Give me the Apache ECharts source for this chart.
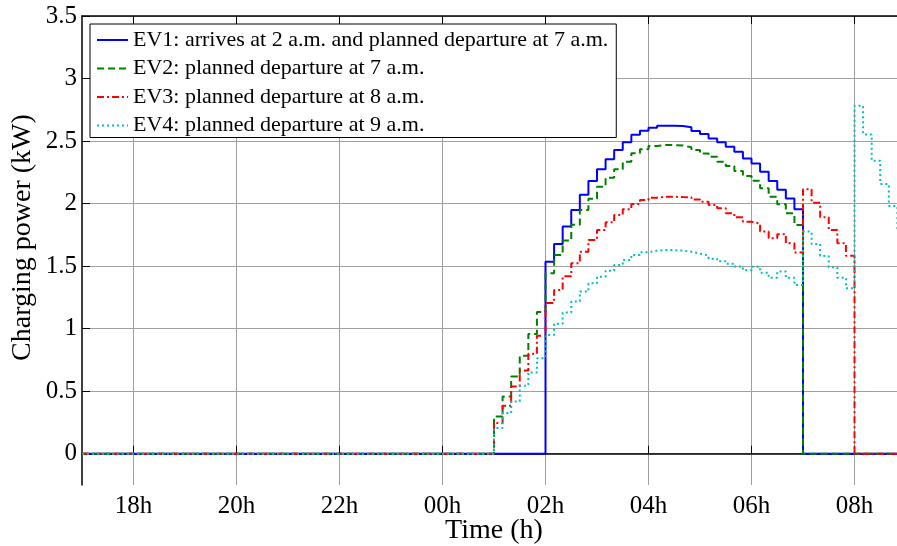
<!DOCTYPE html>
<html>
<head>
<meta charset="utf-8">
<script src="https://cdn.jsdelivr.net/npm/echarts@6/dist/echarts.min.js"></script>
<style>
html,body{margin:0;padding:0;background:#fff;}
#chart{width:897px;height:546px;}
</style>
</head>
<body>
<div id="chart"></div>
<script>
// ---- data ----
const seriesNames = [
  'EV1: arrives at 2 a.m. and planned departure at 7 a.m.',
  'EV2: planned departure at 7 a.m.',
  'EV3: planned departure at 8 a.m.',
  'EV4: planned departure at 9 a.m.'
];
// x axis in hours since midnight of day 1 (25 = 01:00 next day)
const xStartHour = 17;
const xEndHour = 33;
const profileStartHour = 25;     // 01:00, first 10-min slot of the profiles
const slotMinutes = 10;
const xTickHours = [18, 20, 22, 24, 26, 28, 30, 32];
const yTicks = [0, 0.5, 1, 1.5, 2, 2.5, 3, 3.5];

// charging power (kW) per 10-minute slot, from 01:00 to 08:50
const ev1 = [
  0, 0, 0, 0, 0, 0,
  1.536, 1.677, 1.816, 1.949, 2.071, 2.18,
  2.274, 2.354, 2.428, 2.49, 2.551, 2.583,
  2.606, 2.622, 2.622, 2.62, 2.61, 2.58,
  2.556, 2.52, 2.49, 2.455, 2.415, 2.36,
  2.32, 2.255, 2.18, 2.11, 2.04, 1.955,
  0, 0, 0, 0, 0, 0,
  0, 0, 0, 0, 0, 0
];
const ev2 = [
  0.298, 0.458, 0.617, 0.783, 0.958, 1.134,
  1.443, 1.59, 1.704, 1.83, 1.949, 2.039,
  2.135, 2.207, 2.274, 2.335, 2.402, 2.434,
  2.46, 2.468, 2.468, 2.465, 2.45, 2.428,
  2.40, 2.375, 2.335, 2.30, 2.26, 2.22,
  2.183, 2.122, 2.055, 1.994, 1.922, 1.829,
  0, 0, 0, 0, 0, 0,
  0, 0, 0, 0, 0, 0
];
const ev3 = [
  0.245, 0.383, 0.538, 0.665, 0.799, 0.943,
  1.205, 1.31, 1.42, 1.523, 1.616, 1.709,
  1.789, 1.85, 1.909, 1.954, 1.997, 2.029,
  2.047, 2.055, 2.055, 2.052, 2.05, 2.033,
  2.015, 1.989, 1.962, 1.922, 1.89, 1.855,
  1.84, 1.776, 1.723, 1.755, 1.683, 1.61,
  2.114, 2.007, 1.89, 1.789, 1.683, 1.584,
  0, 0, 0, 0, 0, 0
];
const ev4 = [
  0.205, 0.325, 0.418, 0.543, 0.65, 0.764,
  0.95, 1.04, 1.129, 1.217, 1.297, 1.363,
  1.416, 1.464, 1.51, 1.55, 1.59, 1.611,
  1.624, 1.629, 1.628, 1.624, 1.615, 1.6,
  1.585, 1.56, 1.54, 1.52, 1.498, 1.468,
  1.496, 1.448, 1.408, 1.458, 1.408, 1.35,
  1.776, 1.677, 1.581, 1.491, 1.408, 1.323,
  2.782, 2.553, 2.343, 2.157, 1.981, 1.79
];

// ---- build ----
function toPoints(vals) {
  const pts = [[xStartHour, 0]];
  vals.forEach((v, i) => pts.push([profileStartHour + i * slotMinutes / 60, v]));
  pts.push([xEndHour, vals[vals.length - 1]]);
  return pts;
}
const FONT = 'Liberation Serif';
const styles = [
  {color: '#0000ff', type: 'solid'},
  {color: '#008000', type: [7, 4]},
  {color: '#ff0000', type: [7, 3, 2, 3]},
  {color: '#00bfbf', type: [2, 3]}
];
const values = [ev1, ev2, ev3, ev4];

const chart = echarts.init(document.getElementById('chart'), null, {renderer: 'canvas'});
const fmtHour = v => {
  const h = Math.round(v) % 24;
  return (h < 10 ? '0' : '') + h + 'h';
};
chart.setOption({
  animation: false,
  backgroundColor: '#fff',
  grid: {left: 82, top: 16, right: -9, bottom: 61, containLabel: false, outerBoundsMode: 'none'},
  legend: {
    orient: 'vertical',
    left: 90, top: 24,
    backgroundColor: '#fff',
    borderColor: '#000', borderWidth: 1,
    padding: [5, 8, 1, 6],
    itemWidth: 31, itemHeight: 14, itemGap: 6.5,
    itemStyle: {color: 'transparent', borderWidth: 0, opacity: 0},
    textStyle: {fontFamily: FONT, fontSize: 22, color: '#000', lineHeight: 22},
    data: seriesNames
  },
  xAxis: [{
    type: 'value', min: xStartHour, max: xEndHour,
    name: 'Time (h)', nameLocation: 'middle', nameGap: 32, nameMoveOverlap: false,
    nameTextStyle: {fontFamily: FONT, fontSize: 28, color: '#000'},
    axisLine: {show: true, lineStyle: {color: '#000', width: 1.5}},
    axisTick: {show: true, inside: true, length: 8, customValues: xTickHours, lineStyle: {color: '#000'}},
    axisLabel: {customValues: xTickHours, formatter: fmtHour, fontFamily: FONT, fontSize: 25, color: '#000', margin: 9},
    splitLine: {show: true, lineStyle: {color: '#a0a0a0', width: 1}}
  }, {
    type: 'value', min: xStartHour, max: xEndHour, position: 'top',
    axisLine: {show: true, lineStyle: {color: '#000', width: 1.5}},
    axisTick: {show: true, inside: true, length: 8, customValues: xTickHours, lineStyle: {color: '#000'}},
    axisLabel: {show: false},
    splitLine: {show: false}
  }],
  yAxis: [{
    type: 'value', min: -0.25, max: 3.5,
    name: 'Charging power (kW)', nameLocation: 'middle', nameGap: 45, nameMoveOverlap: false,
    nameTextStyle: {fontFamily: FONT, fontSize: 28, color: '#000', padding: [0, 0, 0, 26]},
    axisLine: {show: true, lineStyle: {color: '#000', width: 1.5}},
    axisTick: {show: true, inside: true, length: 8, customValues: yTicks, lineStyle: {color: '#000'}},
    axisLabel: {customValues: yTicks, fontFamily: FONT, fontSize: 25, color: '#000', margin: 5},
    splitLine: {show: true, lineStyle: {color: '#a0a0a0', width: 1}}
  }],
  series: seriesNames.map((n, i) => ({
    name: n,
    type: 'line',
    step: 'end',
    symbol: 'none',
    xAxisIndex: 0, yAxisIndex: 0,
    lineStyle: {color: styles[i].color, type: styles[i].type, width: 2},
    itemStyle: {color: styles[i].color},
    data: toPoints(values[i]),
    z: 2 + i
  }))
});
</script>
</body>
</html>
